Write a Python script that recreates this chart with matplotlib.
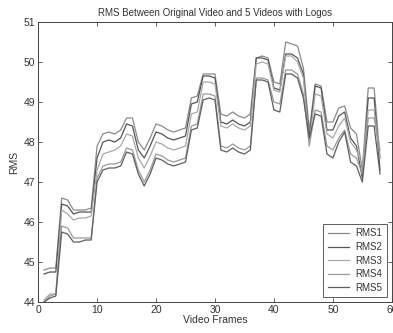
import matplotlib
matplotlib.use('Agg')
import matplotlib.pyplot as plt

plt.rcParams['font.family'] = ['Liberation Sans', 'DejaVu Sans']

# frame numbers and the five RMS curves
frames = list(range(1, 59))

rms1 = [44.80, 44.85, 44.85, 46.60, 46.55, 46.30, 46.30, 46.30, 46.35, 47.90,
        48.20, 48.25, 48.20, 48.30, 48.60, 48.60, 48.00, 47.80, 48.10, 48.45,
        48.40, 48.30, 48.25, 48.30, 48.35, 49.10, 49.15, 49.70, 49.70, 49.70,
        48.70, 48.65, 48.75, 48.65, 48.60, 48.70, 50.10, 50.15, 50.10, 49.50,
        49.45, 50.50, 50.45, 50.40, 49.85, 48.30, 49.45, 49.40, 48.50, 48.50,
        48.85, 48.90, 48.35, 48.20, 47.30, 49.35, 49.35, 47.60]
rms2 = [44.70, 44.75, 44.75, 46.45, 46.40, 46.20, 46.25, 46.25, 46.25, 47.60,
        48.00, 48.05, 48.00, 48.10, 48.45, 48.40, 47.80, 47.60, 47.90, 48.25,
        48.20, 48.10, 48.05, 48.10, 48.15, 48.95, 49.00, 49.65, 49.65, 49.60,
        48.50, 48.45, 48.55, 48.45, 48.40, 48.50, 50.10, 50.10, 50.05, 49.35,
        49.30, 50.20, 50.20, 50.10, 49.70, 48.10, 49.40, 49.35, 48.30, 48.30,
        48.65, 48.75, 48.10, 47.90, 47.10, 49.10, 49.10, 47.30]
rms3 = [44.05, 44.20, 44.20, 46.30, 46.20, 46.05, 46.10, 46.10, 46.15, 47.30,
        47.70, 47.75, 47.80, 47.90, 48.20, 48.15, 47.60, 47.35, 47.65, 48.00,
        47.95, 47.85, 47.80, 47.85, 47.90, 48.70, 48.75, 49.50, 49.50, 49.45,
        48.40, 48.35, 48.45, 48.35, 48.30, 48.40, 49.95, 50.00, 49.95, 49.30,
        49.25, 50.15, 50.15, 50.00, 49.60, 48.00, 49.20, 49.15, 48.20, 48.10,
        48.40, 48.60, 48.00, 47.80, 47.40, 48.80, 48.80, 47.60]
rms4 = [44.00, 44.15, 44.20, 45.90, 45.85, 45.60, 45.60, 45.60, 45.60, 47.10,
        47.40, 47.45, 47.45, 47.50, 47.85, 47.80, 47.30, 47.00, 47.30, 47.70,
        47.65, 47.55, 47.50, 47.55, 47.60, 48.40, 48.45, 49.20, 49.20, 49.15,
        47.90, 47.85, 47.95, 47.85, 47.80, 47.90, 49.60, 49.60, 49.55, 49.00,
        48.95, 49.80, 49.80, 49.70, 49.20, 47.90, 48.80, 48.75, 47.90, 47.80,
        48.10, 48.30, 47.70, 47.60, 47.20, 48.60, 48.60, 47.80]
rms5 = [44.00, 44.10, 44.15, 45.75, 45.70, 45.50, 45.50, 45.55, 45.55, 47.00,
        47.30, 47.35, 47.35, 47.40, 47.75, 47.70, 47.20, 46.90, 47.20, 47.60,
        47.55, 47.45, 47.40, 47.45, 47.50, 48.30, 48.35, 49.05, 49.10, 49.05,
        47.80, 47.75, 47.85, 47.75, 47.70, 47.80, 49.55, 49.55, 49.50, 48.80,
        48.75, 49.70, 49.70, 49.60, 49.10, 48.10, 48.70, 48.65, 47.70, 47.60,
        48.00, 48.25, 47.50, 47.40, 47.00, 48.40, 48.40, 47.20]

labels = ['RMS1', 'RMS2', 'RMS3', 'RMS4', 'RMS5']
series = [rms1, rms2, rms3, rms4, rms5]
colors = ['#8a8a8a', '#555555', '#a8a8a8', '#9a9a9a', '#5e5e5e']

fig = plt.figure(figsize=(3.93, 3.33), dpi=100)
ax = fig.add_axes([0.097, 0.093, 0.9, 0.841])

for s, lab, c in zip(series, labels, colors):
    ax.plot(frames, s, color=c, lw=0.9, label=lab)

ax.set_xlim(0, 60)
ax.set_ylim(44, 51)
ax.set_xticks(range(0, 61, 10))
ax.set_yticks(range(44, 52))
ax.tick_params(direction='in', top=True, right=True, length=3, width=0.6,
               labelsize=7.5, labelcolor='#333333', color='#444444', pad=2)
for sp in ax.spines.values():
    sp.set_linewidth(0.7)
    sp.set_color('#444444')

ax.set_title('RMS Between Original Video and 5 Videos with Logos',
             fontsize=7, color='#333333', pad=4)
ax.set_xlabel('Video Frames', fontsize=7.5, color='#333333', labelpad=0)
ax.set_ylabel('RMS', fontsize=7.5, color='#333333', labelpad=3)

leg = ax.legend(loc='lower right', fontsize=7, frameon=True, fancybox=False,
                edgecolor='#333333', handlelength=2.2, borderpad=0.45,
                labelspacing=0.37, handletextpad=0.7, borderaxespad=0.5)
leg.get_frame().set_linewidth(0.7)
for t in leg.get_texts():
    t.set_color('#333333')

fig.savefig('out.png', dpi=100)
